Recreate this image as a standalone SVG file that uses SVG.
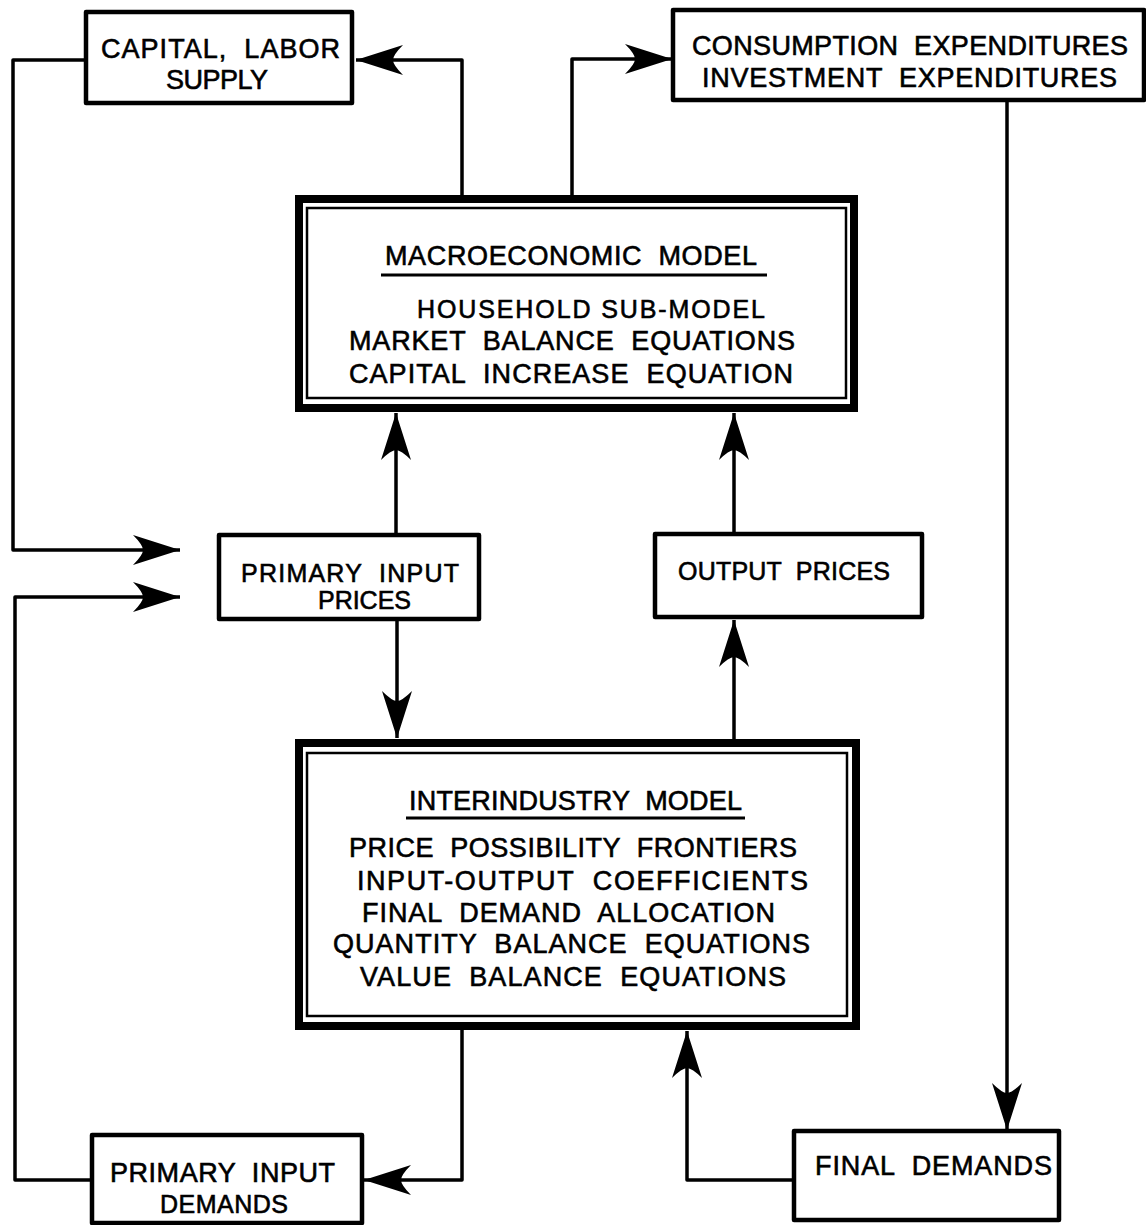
<svg xmlns="http://www.w3.org/2000/svg" width="1146" height="1225" viewBox="0 0 1146 1225">
  <defs>
    <style>
      .box { fill: #fff; stroke: #000; stroke-width: 4.5; stroke-linejoin: round; }
      .outer { fill: #fff; stroke: #000; stroke-width: 8; }
      .inner { fill: none; stroke: #000; stroke-width: 2.5; }
      .wire { fill: none; stroke: #000; stroke-width: 3.5; stroke-linejoin: round; }
      .rule { stroke: #000; stroke-width: 3; }
      text { font-family: "Liberation Sans", Arial, sans-serif; font-size: 27px; fill: #000; stroke: #000; stroke-width: 0.6; white-space: pre; }
      .sm { font-size: 25px; }
    </style>
    <!-- barbed arrowhead, tip at the path end -->
    <marker id="arrow" viewBox="-50 -17 52 34" refX="0" refY="0" markerWidth="52" markerHeight="34" markerUnits="userSpaceOnUse" orient="auto">
      <path d="M0,0 L-47,-15 Q-37,-5 -37,0 Q-37,5 -47,15 Z" fill="#000"/>
    </marker>
  </defs>
  <rect width="1146" height="1225" fill="#fff"/>

  <!-- connectors -->
  <g id="connectors">
    <path class="wire" d="M462,195 V60 H356" marker-end="url(#arrow)"/>
    <path class="wire" d="M572,195 V59 H672" marker-end="url(#arrow)"/>
    <path class="wire" d="M86,60 H13 V550 H180" marker-end="url(#arrow)"/>
    <path class="wire" d="M91,1180 H15 V597 H180" marker-end="url(#arrow)"/>
    <path class="wire" d="M396,533 V413" marker-end="url(#arrow)"/>
    <path class="wire" d="M397,620 V738" marker-end="url(#arrow)"/>
    <path class="wire" d="M734,533 V413" marker-end="url(#arrow)"/>
    <path class="wire" d="M734,739 V620" marker-end="url(#arrow)"/>
    <path class="wire" d="M462,1030 V1180 H364" marker-end="url(#arrow)"/>
    <path class="wire" d="M1007,100 V1130" marker-end="url(#arrow)"/>
    <path class="wire" d="M793,1180 H687 V1031" marker-end="url(#arrow)"/>
  </g>

  <g id="capital-labor-supply">
    <rect class="box" x="86" y="12" width="266" height="91"/>
    <text x="101" y="58" textLength="239" lengthAdjust="spacing" xml:space="preserve">CAPITAL,  LABOR</text>
    <text x="166" y="89" textLength="102" lengthAdjust="spacing">SUPPLY</text>
  </g>

  <g id="expenditures">
    <rect class="box" x="673" y="10" width="471" height="90"/>
    <text x="692" y="55" textLength="436" lengthAdjust="spacing" xml:space="preserve">CONSUMPTION  EXPENDITURES</text>
    <text x="702" y="87" textLength="415" lengthAdjust="spacing" xml:space="preserve">INVESTMENT  EXPENDITURES</text>
  </g>

  <g id="macroeconomic-model">
    <rect class="outer" x="299" y="199" width="555" height="209"/>
    <rect class="inner" x="307" y="208" width="539" height="190"/>
    <text x="385" y="265" textLength="372" lengthAdjust="spacing" xml:space="preserve">MACROECONOMIC  MODEL</text>
    <line class="rule" x1="381" y1="275" x2="767" y2="275"/>
    <text class="sm" x="417" y="318" textLength="348" lengthAdjust="spacing">HOUSEHOLD SUB-MODEL</text>
    <text x="349" y="350" textLength="446" lengthAdjust="spacing" xml:space="preserve">MARKET  BALANCE  EQUATIONS</text>
    <text x="349" y="383" textLength="444" lengthAdjust="spacing" xml:space="preserve">CAPITAL  INCREASE  EQUATION</text>
  </g>

  <g id="primary-input-prices">
    <rect class="box" x="219" y="535" width="260" height="84"/>
    <text class="sm" x="241" y="582" textLength="218" lengthAdjust="spacing" xml:space="preserve">PRIMARY  INPUT</text>
    <text class="sm" x="318" y="609" textLength="93" lengthAdjust="spacing">PRICES</text>
  </g>

  <g id="output-prices">
    <rect class="box" x="655" y="534" width="267" height="83"/>
    <text class="sm" x="678" y="580" textLength="212" lengthAdjust="spacing" xml:space="preserve">OUTPUT  PRICES</text>
  </g>

  <g id="interindustry-model">
    <rect class="outer" x="299" y="743" width="557" height="283"/>
    <rect class="inner" x="307" y="753" width="540" height="263"/>
    <text x="409" y="810" textLength="333" lengthAdjust="spacing" xml:space="preserve">INTERINDUSTRY  MODEL</text>
    <line class="rule" x1="406" y1="818" x2="745" y2="818"/>
    <text x="349" y="857" textLength="448" lengthAdjust="spacing" xml:space="preserve">PRICE  POSSIBILITY  FRONTIERS</text>
    <text x="357" y="890" textLength="451" lengthAdjust="spacing" xml:space="preserve">INPUT-OUTPUT  COEFFICIENTS</text>
    <text x="362" y="922" textLength="413" lengthAdjust="spacing" xml:space="preserve">FINAL  DEMAND  ALLOCATION</text>
    <text x="333" y="953" textLength="477" lengthAdjust="spacing" xml:space="preserve">QUANTITY  BALANCE  EQUATIONS</text>
    <text x="360" y="986" textLength="426" lengthAdjust="spacing" xml:space="preserve">VALUE  BALANCE  EQUATIONS</text>
  </g>

  <g id="primary-input-demands">
    <rect class="box" x="92" y="1135" width="270" height="88"/>
    <text x="110" y="1182" textLength="225" lengthAdjust="spacing" xml:space="preserve">PRIMARY  INPUT</text>
    <text class="sm" x="160" y="1213" textLength="128" lengthAdjust="spacing">DEMANDS</text>
  </g>

  <g id="final-demands">
    <rect class="box" x="794" y="1131" width="265" height="89"/>
    <text x="815" y="1175" textLength="237" lengthAdjust="spacing" xml:space="preserve">FINAL  DEMANDS</text>
  </g>
</svg>
